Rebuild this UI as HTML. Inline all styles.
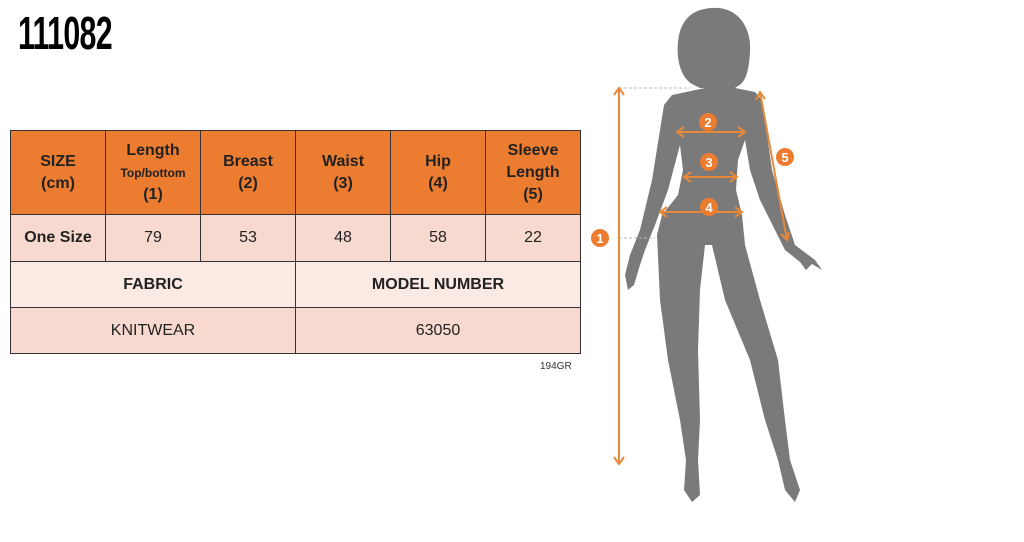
<!DOCTYPE html>
<html><head><style>
body{margin:0;width:1024px;height:542px;background:#fff;position:relative;overflow:hidden;font-family:"Liberation Sans",sans-serif}
.t{position:absolute;left:18px;top:6px;font-family:"Liberation Sans Narrow","Liberation Sans",sans-serif;font-weight:bold;font-size:46px;transform:scaleX(0.66);transform-origin:left top;letter-spacing:-1px;color:#000}
table{position:absolute;left:10px;top:130px;border-collapse:collapse;width:571px;table-layout:fixed}
td{border:1.5px solid #333;text-align:center;color:#222;font-size:16px;padding:0}
.h td{background:#ec7c30;height:83px;font-weight:bold;line-height:22px}
.r1 td{background:#f8d9cf;height:46px}
.r2 td{background:#fbe9e4;height:45px;font-weight:bold}
.r3 td{background:#f8d9cf;height:45px}
.sm{font-size:12px;line-height:14px}
.code{position:absolute;left:540px;top:361px;font-size:10px;color:#333}
</style></head><body>
<div class="t">111082</div>
<table>
<tr class="h"><td>SIZE<br>(cm)</td><td>Length<br><span class="sm">Top/bottom</span><br>(1)</td><td>Breast<br>(2)</td><td>Waist<br>(3)</td><td>Hip<br>(4)</td><td>Sleeve<br>Length<br>(5)</td></tr>
<tr class="r1"><td><b>One Size</b></td><td>79</td><td>53</td><td>48</td><td>58</td><td>22</td></tr>
<tr class="r2"><td colspan="3">FABRIC</td><td colspan="3">MODEL NUMBER</td></tr>
<tr class="r3"><td colspan="3">KNITWEAR</td><td colspan="3">63050</td></tr>
</table>
<div class="code">194GR</div>
<svg width="1024" height="542" style="position:absolute;left:0;top:0">
<g fill="#7a7a7a">
<path d="M712,8 C738,6 752,28 750,52 C749,70 746,82 738,86 L735,88 L700,88 L692,84 C682,78 676,62 678,42 C680,20 692,9 712,8 Z"/>
<path d="M700,80 L705,88 L672,95 L664,105 L660,130 L652,180 L640,230 L630,255 L625,275 L628,290 L634,285 L640,265 L645,250 L655,225 L668,190 L676,160 L680,145 L683,170 L678,195 L662,215 L657,235 L660,300 L668,360 L680,420 L686,460 L684,490 L692,502 L700,495 L698,460 L700,420 L698,350 L700,290 L705,245 L712,245 L725,300 L750,360 L765,420 L778,460 L785,490 L795,502 L800,490 L790,460 L785,420 L778,360 L760,300 L745,245 L742,215 L736,190 L738,160 L745,140 L750,170 L760,200 L775,230 L785,250 L800,262 L806,270 L812,264 L822,270 L815,260 L795,245 L785,215 L772,170 L765,120 L762,100 L755,92 L735,88 L738,80 Z"/>
</g>
<g stroke="#bbb" stroke-dasharray="3,2" stroke-width="1"><line x1="619" y1="88" x2="690" y2="88"/><line x1="619" y1="238" x2="655" y2="238"/></g>
<g stroke="#e8893a" stroke-width="2" fill="none">
<line x1="619" y1="88" x2="619" y2="464"/><path d="M614,95 L619,88 L624,95 M614,457 L619,464 L624,457"/>
<line x1="677" y1="132" x2="745" y2="132"/><path d="M684,127 L677,132 L684,137 M738,127 L745,132 L738,137"/>
<line x1="684" y1="177" x2="737" y2="177"/><path d="M691,172 L684,177 L691,182 M730,172 L737,177 L730,182"/>
<line x1="660" y1="212" x2="742" y2="212"/><path d="M667,207 L660,212 L667,217 M735,207 L742,212 L735,217"/>
<line x1="760" y1="92" x2="787" y2="240"/><path d="M756,100 L760,92 L765,99 M781,234 L787,240 L789,232"/>
</g>
<g fill="#ec7c30"><circle cx="600" cy="238" r="9"/><circle cx="708" cy="122" r="9"/><circle cx="709" cy="162" r="9"/><circle cx="709" cy="207" r="9"/><circle cx="785" cy="157" r="9"/></g>
<g fill="#fff" font-size="13" font-weight="bold" text-anchor="middle" font-family="Liberation Sans,sans-serif">
<text x="600" y="243">1</text><text x="708" y="127">2</text><text x="709" y="167">3</text><text x="709" y="212">4</text><text x="785" y="162">5</text></g>
</svg>
</body></html>
